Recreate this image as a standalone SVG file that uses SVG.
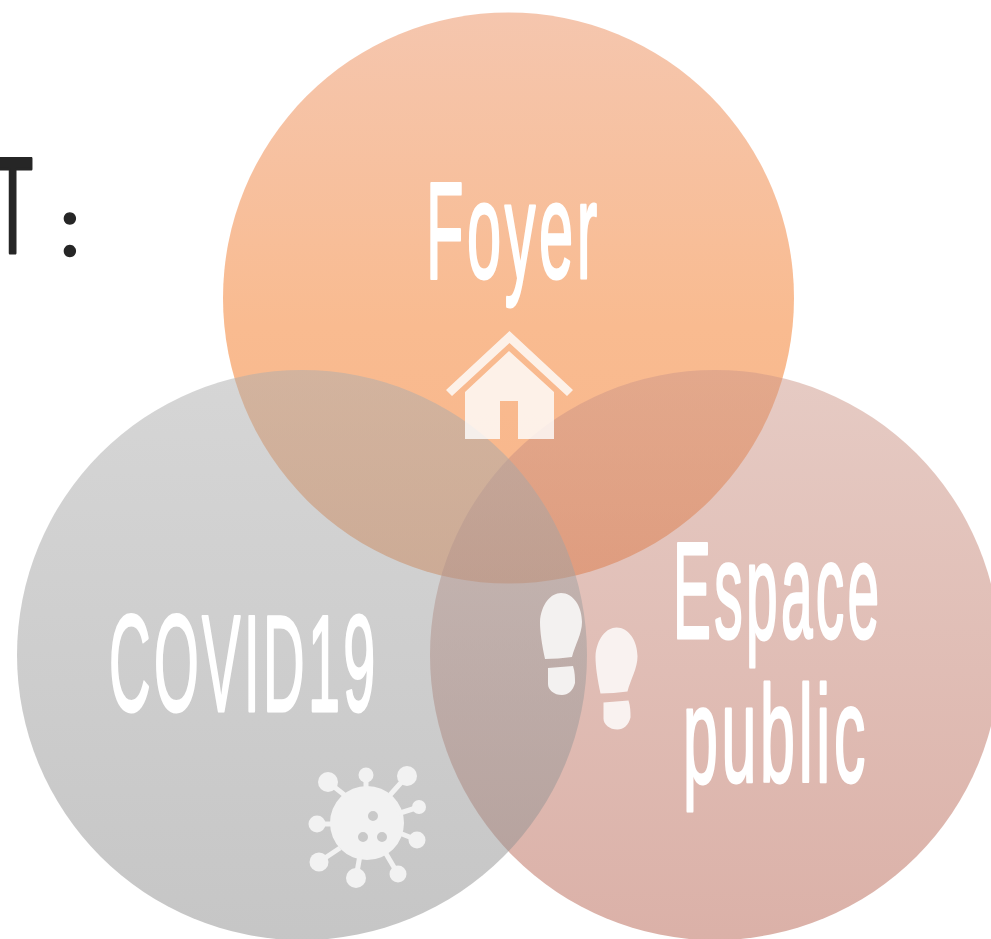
<svg xmlns="http://www.w3.org/2000/svg" width="991" height="939" viewBox="0 0 991 939">
<style>
.lbl{font-family:"Liberation Sans",Arial,sans-serif;font-size:137px;letter-spacing:8px;fill:#fff;stroke:#fff;stroke-width:3;stroke-linejoin:round;stroke-linecap:round}
.dark{fill:#262626;stroke:#262626;stroke-linejoin:round;stroke-linecap:round}
</style>
<defs>
<linearGradient id="gT" x1="0" y1="0" x2="0" y2="1"><stop offset="0" stop-color="#f5c6ae"/><stop offset=".55" stop-color="#f9bb90"/><stop offset="1" stop-color="#f8b58a"/></linearGradient>
<linearGradient id="gL" x1="0" y1="0" x2="0" y2="1"><stop offset="0" stop-color="#adadad"/><stop offset="1" stop-color="#8d8d8d"/></linearGradient>
<linearGradient id="gR" x1="0" y1="0" x2="0" y2="1"><stop offset="0" stop-color="#cd9789"/><stop offset="1" stop-color="#b76351"/></linearGradient>
<path id="foot" d="M545,659C542,645 540,632 540,622C541,604 551,593 561,593C573,593 582,606 582,622C582,634 575,645 572,657C563,658 553,659 545,659ZM548,668L573,666C575,672 575,678 575,683C573,691 568,695 562,695C554,695 548,690 548,684Z"/>
</defs>
<rect width="991" height="939" fill="#fff"/>
<g id="title">
<text class="dark" font-family="'Liberation Sans',Arial,sans-serif" transform="translate(-8 253) scale(.49 1)" font-size="138" stroke-width="3">T</text>
<text class="dark" font-family="Lato,'Liberation Sans',sans-serif" x="59" y="256" font-size="87" stroke-width="1.500">:</text>
</g>
<g id="node-foyer"><circle cx="508.500" cy="298" r="285.500" fill="url(#gT)"/></g>
<g id="node-espace"><circle cx="715" cy="655" r="285" fill="url(#gR)" fill-opacity=".5"/></g>
<g id="node-covid"><circle cx="302" cy="655" r="285" fill="url(#gL)" fill-opacity=".5"/></g>
<g id="label-foyer"><text class="lbl" transform="translate(426 278) scale(.448 1)">Foyer</text>
<g opacity=".8" fill="#fff"><path d="M509.500,331L573,390L567,396L509.500,343L452,396L446,390Z"/><path d="M509,351L554,392V439H518V401H500V439H465V392Z"/></g></g>
<g id="label-covid"><text class="lbl" transform="translate(109 711) scale(.42 1)">COVID19</text>
<path fill="#f2f2f2" fill-rule="evenodd" d="M330,823a37,37 0 1,0 74,0a37,37 0 1,0 -74,0ZM368,816a5,5 0 1,0 10,0a5,5 0 1,0 -10,0ZM358,837a5,5 0 1,0 10,0a5,5 0 1,0 -10,0ZM377,837a5,5 0 1,0 10,0a5,5 0 1,0 -10,0Z"/>
<g fill="#f2f2f2"><circle cx="328" cy="782" r="10"/><circle cx="366" cy="775" r="7.500"/><circle cx="407" cy="776" r="10"/><circle cx="419" cy="807" r="7"/><circle cx="417" cy="840" r="8.500"/><circle cx="398" cy="874" r="8.500"/><circle cx="356" cy="878" r="10"/><circle cx="319" cy="862" r="9.500"/><circle cx="317" cy="824" r="8.500"/></g>
<path stroke="#f2f2f2" stroke-width="5" fill="none" d="M328,782L347,797M366,775V795M407,776L390,795M419,807L397,814M417,840L397,832M398,874L385,852M356,878L360,855M319,862L340,848M317,824H335"/></g>
<g id="label-espace"><text class="lbl" transform="translate(673 638) scale(.415 1)">Espace</text><text class="lbl" transform="translate(683 782) scale(.458 1)">public</text>
<use href="#foot" fill="#f3f1f0"/><use href="#foot" transform="translate(55.500 34.500)" fill="#f9f2f0"/></g>
</svg>
